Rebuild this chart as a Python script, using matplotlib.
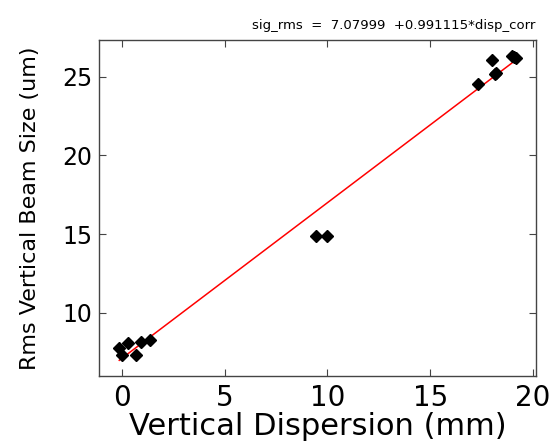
import matplotlib
matplotlib.use('Agg')
import matplotlib.pyplot as plt
import numpy as np

# measured points (vertical dispersion in mm, rms beam size in um)
disp_corr = [-0.12, 0.03, 0.29, 0.68, 0.94, 1.37,
             9.47, 9.98,
             17.35, 17.99, 18.16, 18.22, 18.96, 19.08, 19.18]
sig_rms = [7.75, 7.32, 8.04, 7.32, 8.11, 8.28,
           14.9, 14.9,
           24.53, 26.1, 25.17, 25.25, 26.35, 26.3, 26.22]

# fit coefficients
fit_a = 7.07999
fit_b = 0.991115

xticks = [0, 5, 10, 15, 20]
yticks = [10, 15, 20, 25]

fig = plt.figure(figsize=(5.53, 4.45), dpi=100)
ax = fig.add_axes([0.1796, 0.155, 0.789, 0.755])

xf = np.array([min(disp_corr), max(disp_corr)])
ax.plot(xf, fit_a + fit_b * xf, color='red', linewidth=1.1, zorder=2)
ax.plot(disp_corr, sig_rms, linestyle='none', marker='D', markersize=6,
        color='black', zorder=3)

ax.set_xlim(-1.09, 20.13)
ax.set_ylim(5.96, 27.35)
ax.set_xticks(xticks)
ax.set_yticks(yticks)
ax.tick_params(axis='both', direction='in', top=True, right=True, length=5,
               width=0.8, color='#444444')
ax.tick_params(axis='x', labelsize=20, pad=6)
ax.tick_params(axis='y', labelsize=17, pad=5)
for s in ax.spines.values():
    s.set_color('#444444')
    s.set_linewidth(1.0)

ax.set_xlabel('Vertical Dispersion (mm)', fontsize=22, labelpad=0)
ax.set_ylabel('Rms Vertical Beam Size (um)', fontsize=16, labelpad=16)
ax.set_title('sig_rms  =  7.07999  +0.991115*disp_corr', loc='right',
             fontsize=9.5, pad=8)

plt.savefig('out.png', dpi=100)
